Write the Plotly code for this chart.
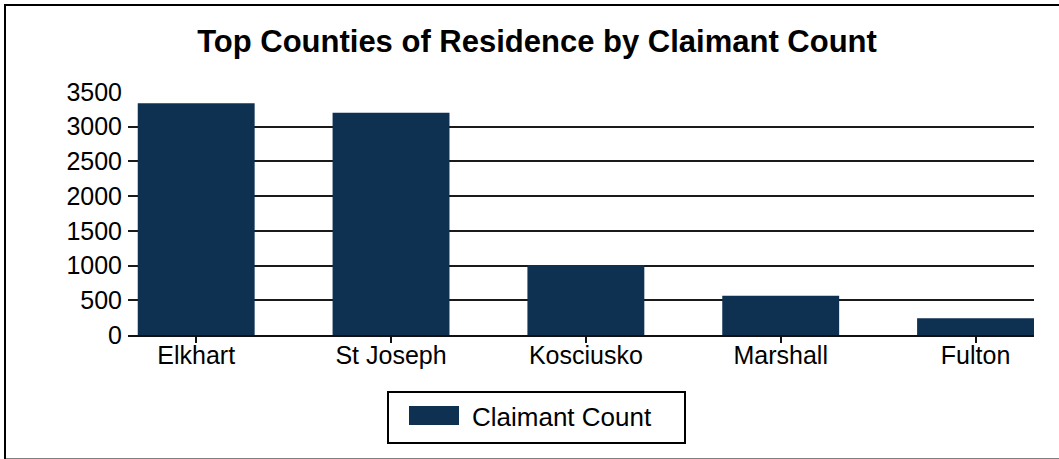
import plotly.graph_objects as go

counties = ["Elkhart", "St Joseph", "Kosciusko", "Marshall", "Fulton"]
claimant_count = [3337, 3202, 1010, 566, 240]
series_name = "Claimant Count"
y_ticks = [0, 500, 1000, 1500, 2000, 2500, 3000, 3500]

BAR = "#0e3152"
FONT = "Liberation Sans, Arial, sans-serif"

W, H = 1059, 459
L, R, T, B = 128, 25, 92, 124
pw, ph = W - L - R, H - T - B


def px(x):
    return (x - L) / pw


def py(y):
    return (H - B - y) / ph


fig = go.Figure()
fig.add_trace(go.Bar(x=counties, y=claimant_count, name=series_name,
                     marker=dict(color=BAR, line=dict(width=0)),
                     showlegend=False))

fig.update_layout(
    width=W, height=H,
    margin=dict(l=L, r=R, t=T, b=B, autoexpand=False),
    paper_bgcolor="white", plot_bgcolor="white",
    bargap=0.4,
    font=dict(family=FONT, size=25, color="black"),
    title=dict(text="<b>Top Counties of Residence by Claimant Count</b>",
               font=dict(family=FONT, size=31, color="black"),
               x=537 / W, xref="container", xanchor="center",
               y=1 - 41 / H, yref="container", yanchor="middle"),
    xaxis=dict(range=[-0.35, 4.30], showline=True, linecolor="#111",
               linewidth=2, ticks="outside", ticklen=6, tickwidth=2,
               tickcolor="#111", showgrid=False, fixedrange=True,
               ticklabelstandoff=-9, tickfont=dict(size=25)),
    yaxis=dict(range=[0, 3500], tickvals=y_ticks, showgrid=True,
               gridcolor="#1a1a1a", gridwidth=1.6, zeroline=False,
               showline=False, ticks="", ticklabelstandoff=5,
               tickfont=dict(size=25), fixedrange=True),
)

shapes = [
    # outer frame (right and bottom edges fall outside the picture)
    dict(type="rect", xref="paper", yref="paper",
         x0=px(5), x1=px(1120), y0=py(459.5), y1=py(5),
         line=dict(color="black", width=2), fillcolor="rgba(0,0,0,0)"),
    # legend box
    dict(type="rect", xref="paper", yref="paper",
         x0=px(388), x1=px(685), y0=py(443), y1=py(392),
         line=dict(color="black", width=2), fillcolor="white"),
    # legend swatch
    dict(type="rect", xref="paper", yref="paper",
         x0=px(409), x1=px(459), y0=py(425), y1=py(406),
         line=dict(width=0), fillcolor=BAR),
]
fig.update_layout(shapes=shapes)
fig.add_annotation(text=series_name, xref="paper", yref="paper",
                   x=px(470), y=py(416.5), xanchor="left", yanchor="middle",
                   showarrow=False, font=dict(family=FONT, size=26, color="black"))

fig.write_html("out.html", config={"displayModeBar": False},
               post_script="document.body.style.margin='0';")
